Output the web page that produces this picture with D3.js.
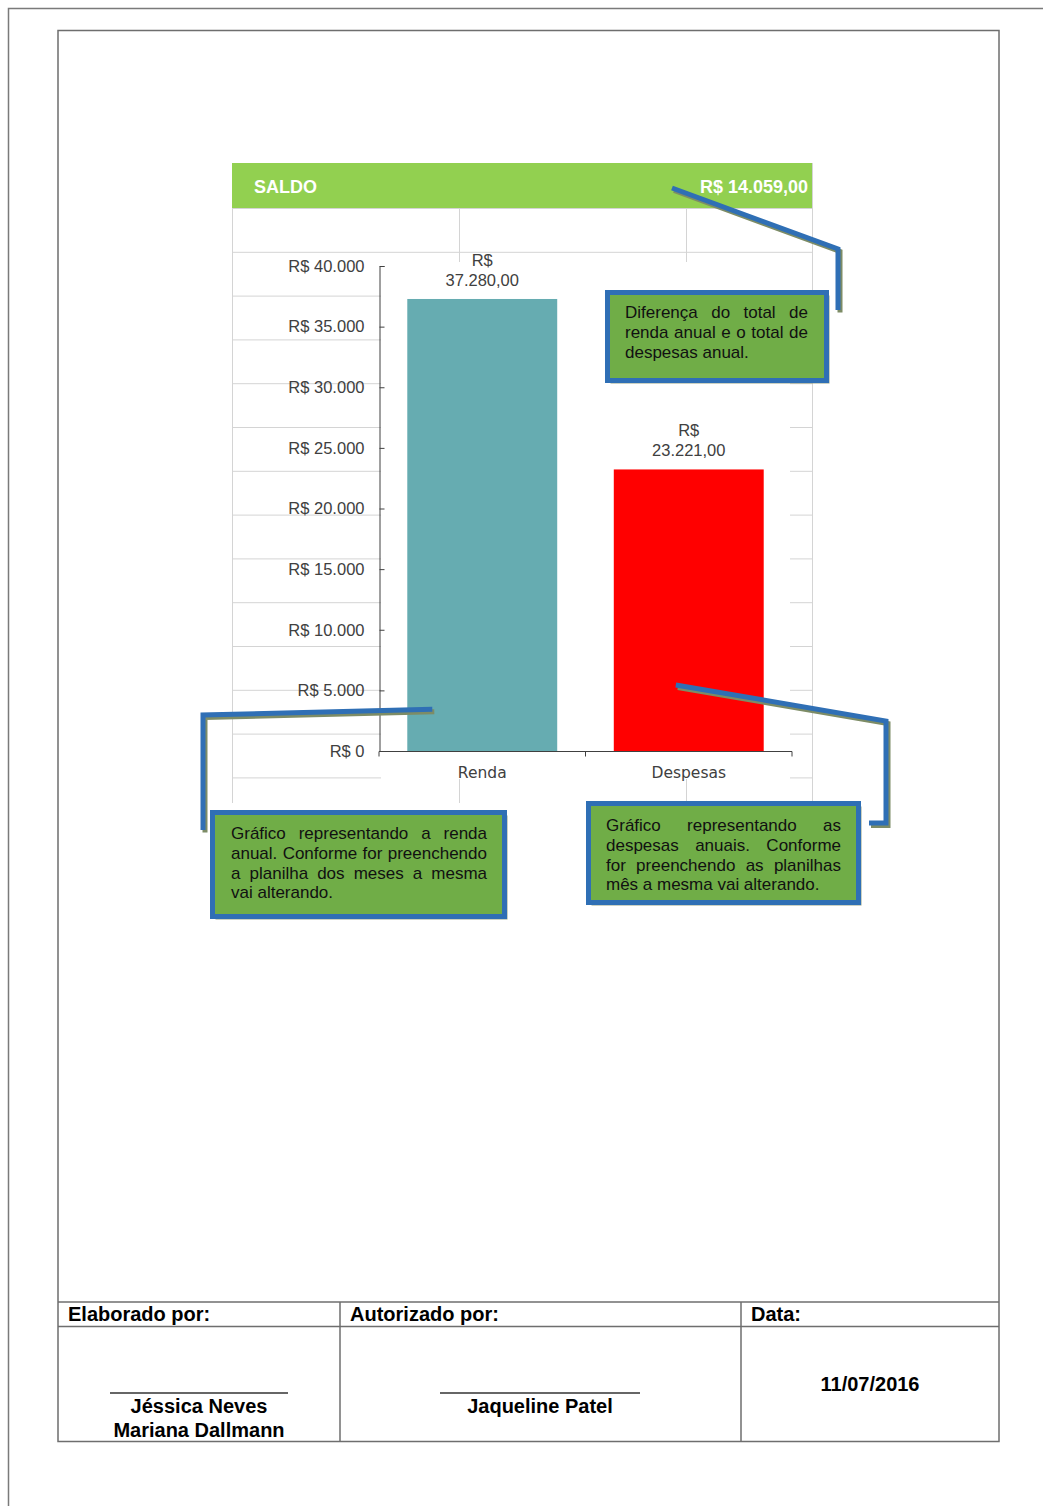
<!DOCTYPE html>
<html>
<head>
<meta charset="utf-8">
<script src="https://cdn.jsdelivr.net/npm/d3@7"></script>
<style>
  body { margin: 0; background: #fff; }
  svg { display: block; }
</style>
</head>
<body>
<svg id="page" width="1043" height="1506"></svg>
<script>
const categories = ["Renda", "Despesas"]
const totals = [37280, 23221]
const barColors = ["#66acb1", "#ff0000"]
const yTicks = [0, 5000, 10000, 15000, 20000, 25000, 30000, 35000, 40000]

const saldoLabel = "SALDO"
const saldoValue = "R$ 14.059,00"

const noteSaldo = ["Diferença do total de", "renda anual e o total de", "despesas anual."]
const noteRenda = ["Gráfico representando a renda", "anual. Conforme for preenchendo", "a planilha dos meses a mesma", "vai alterando."]
const noteDespesas = ["Gráfico representando as", "despesas anuais. Conforme", "for preenchendo as planilhas", "mês a mesma vai alterando."]

const footerHeads = ["Elaborado por:", "Autorizado por:", "Data:"]
const footerNames = [["Jéssica Neves", "Mariana Dallmann"], ["Jaqueline Patel"]]
const footerDate = "11/07/2016"

const brl = d3.formatLocale({decimal: ",", thousands: ".", grouping: [3], currency: ["R$ ", ""]})
const fmtTick = brl.format("$,.0f")
const fmtValue = brl.format(",.2f")

const svg = d3.select("#page")
const FONT = "'Liberation Sans', Arial, sans-serif"
const BLUE = "#2f6fb5"
const SHADOW = "#7d8c66"

// page borders
svg.append("path")
  .attr("d", "M8.5,1506 V8.5 H1043")
  .attr("fill", "none").attr("stroke", "#7a7a7a").attr("stroke-width", 1.5)
svg.append("rect")
  .attr("x", 58).attr("y", 30.5).attr("width", 941).attr("height", 1411)
  .attr("fill", "none").attr("stroke", "#6e6e6e").attr("stroke-width", 1.5)

// spreadsheet grid behind the chart
const grid = svg.append("g").attr("stroke", "#d4d4d4").attr("stroke-width", 1)
const gridCols = [232, 459, 686, 812]
const rowH = 43.8
const rows = [163.5, 208.5]
for (let k = 1; k <= 13; k++) rows.push(208.5 + k * rowH)
grid.selectAll("line.h").data(rows).join("line")
  .attr("x1", 232).attr("x2", 812).attr("y1", d => d).attr("y2", d => d)
grid.selectAll("line.v").data(gridCols).join("line")
  .attr("x1", d => d + 0.5).attr("x2", d => d + 0.5).attr("y1", 163).attr("y2", 803)

// green saldo header
svg.append("rect").attr("x", 232).attr("y", 163).attr("width", 580).attr("height", 45).attr("fill", "#92d050")
svg.append("text").attr("x", 254).attr("y", 192.5)
  .attr("font-family", FONT).attr("font-size", 18).attr("font-weight", "bold").attr("fill", "#fff")
  .text(saldoLabel)
svg.append("text").attr("x", 808).attr("y", 192.5).attr("text-anchor", "end")
  .attr("font-family", FONT).attr("font-size", 18).attr("font-weight", "bold").attr("fill", "#fff")
  .text(saldoValue)

// chart plot background
svg.append("rect").attr("x", 381).attr("y", 262).attr("width", 409).attr("height", 517).attr("fill", "#fff")

const y = d3.scaleLinear().domain([0, 40000]).range([751, 266])
const x = d3.scaleBand().domain(categories).range([379, 792]).paddingInner(0.274).paddingOuter(0.137)

const chart = svg.append("g")

chart.selectAll("rect.bar").data(categories).join("rect")
  .attr("class", "bar")
  .attr("x", d => x(d))
  .attr("width", x.bandwidth())
  .attr("y", (d, i) => y(totals[i]))
  .attr("height", (d, i) => y(0) - y(totals[i]))
  .attr("fill", (d, i) => barColors[i])

// y axis: ticks inside, labels left
const yAxis = chart.append("g").attr("transform", "translate(379.5,0)")
  .call(d3.axisLeft(y).tickValues(yTicks).tickSizeInner(-5).tickSizeOuter(-5).tickPadding(15).tickFormat(fmtTick))
yAxis.select(".domain").attr("stroke", "#404040")
yAxis.selectAll(".tick line").attr("stroke", "#404040")
yAxis.selectAll("text").attr("font-family", FONT).attr("font-size", 16.5).attr("fill", "#404040")

// x axis: ticks between categories
const xAxis = chart.append("g").attr("transform", "translate(0,751.5)")
xAxis.append("line").attr("x1", 379).attr("x2", 792).attr("stroke", "#404040")
const bounds = [x.range()[0], x.range()[0] + x.step(), x.range()[0] + 2 * x.step()]
xAxis.selectAll("line.tk").data(bounds).join("line")
  .attr("x1", d => d).attr("x2", d => d).attr("y1", 0).attr("y2", 5).attr("stroke", "#404040")
xAxis.selectAll("text").data(categories).join("text")
  .attr("x", d => x(d) + x.bandwidth() / 2).attr("y", 26)
  .attr("text-anchor", "middle")
  .attr("font-family", "'DejaVu Sans', sans-serif").attr("font-size", 15.5).attr("fill", "#404040")
  .text(d => d)

// data labels
const labels = chart.selectAll("text.val").data(categories).join("text")
  .attr("class", "val")
  .attr("text-anchor", "middle")
  .attr("font-family", FONT).attr("font-size", 16.5).attr("fill", "#404040")
labels.append("tspan")
  .attr("x", d => x(d) + x.bandwidth() / 2)
  .attr("y", (d, i) => y(totals[i]) - 33)
  .text("R$")
labels.append("tspan")
  .attr("x", d => x(d) + x.bandwidth() / 2)
  .attr("y", (d, i) => y(totals[i]) - 13)
  .text((d, i) => fmtValue(totals[i]))

// connectors
const connectorLine = d3.line()
function connector(points) {
  svg.append("path").attr("d", connectorLine(points.map(p => [p[0] + 2, p[1] + 2.5])))
    .attr("fill", "none").attr("stroke", SHADOW).attr("stroke-width", 5)
  svg.append("path").attr("d", connectorLine(points))
    .attr("fill", "none").attr("stroke", BLUE).attr("stroke-width", 5)
}
connector([[672, 188], [838, 249], [838, 310]])
connector([[x("Renda") + 25, y(3450)], [203, 715], [203, 830]])
connector([[x("Despesas") + 62, y(5450)], [886, 721], [886, 823], [869, 823]])

// callout boxes with justified text
function callout(bx, by, bw, bh, lines, tx, tw, ty0) {
  svg.append("rect").attr("x", bx + 3).attr("y", by + 3).attr("width", bw).attr("height", bh)
    .attr("fill", SHADOW).attr("opacity", 0.8)
  svg.append("rect").attr("x", bx).attr("y", by).attr("width", bw).attr("height", bh)
    .attr("fill", "#70ad47").attr("stroke", BLUE).attr("stroke-width", 5)
  lines.forEach((line, li) => {
    const words = line.split(" ")
    const ly = ty0 + li * 19.8
    const g = svg.append("g")
    const nodes = words.map(w => g.append("text")
      .attr("y", ly).attr("font-family", FONT).attr("font-size", 17).attr("fill", "#111")
      .text(w))
    const widths = nodes.map(n => n.node().getComputedTextLength())
    const sum = d3.sum(widths)
    const last = li === lines.length - 1
    const gap = last || words.length < 2 ? 4.7 : (tw - sum) / (words.length - 1)
    let cx = tx
    nodes.forEach((n, i) => { n.attr("x", cx); cx += widths[i] + gap })
  })
}
callout(607.5, 292.5, 219, 88, noteSaldo, 625, 183, 318)
callout(212.5, 812.5, 292, 104, noteRenda, 231, 256, 839)
callout(588.5, 803.5, 270, 99, noteDespesas, 606, 235, 831)

// footer table
const foot = svg.append("g").attr("stroke", "#6e6e6e").attr("stroke-width", 1.5)
foot.append("line").attr("x1", 58).attr("x2", 999).attr("y1", 1302).attr("y2", 1302)
foot.append("line").attr("x1", 58).attr("x2", 999).attr("y1", 1326.5).attr("y2", 1326.5)
const footCols = [58, 340, 741, 999]
foot.selectAll("line.c").data([340, 741]).join("line")
  .attr("x1", d => d).attr("x2", d => d).attr("y1", 1302).attr("y2", 1441)

svg.selectAll("text.fh").data(footerHeads).join("text")
  .attr("x", (d, i) => footCols[i] + 10).attr("y", 1321)
  .attr("font-family", FONT).attr("font-size", 20).attr("font-weight", "bold").attr("fill", "#000")
  .text(d => d)

const sigCenters = [199, 540]
const sigHalf = [89, 100]
sigCenters.forEach((c, i) => {
  svg.append("line").attr("x1", c - sigHalf[i]).attr("x2", c + sigHalf[i]).attr("y1", 1393).attr("y2", 1393)
    .attr("stroke", "#333").attr("stroke-width", 1.5)
  footerNames[i].forEach((n, j) => {
    svg.append("text").attr("x", c).attr("y", 1413 + j * 23.5).attr("text-anchor", "middle")
      .attr("font-family", FONT).attr("font-size", 20).attr("font-weight", "bold").attr("fill", "#000")
      .text(n)
  })
})
svg.append("text").attr("x", 870).attr("y", 1391).attr("text-anchor", "middle")
  .attr("font-family", FONT).attr("font-size", 20).attr("font-weight", "bold").attr("fill", "#000")
  .text(footerDate)
</script>
</body>
</html>
